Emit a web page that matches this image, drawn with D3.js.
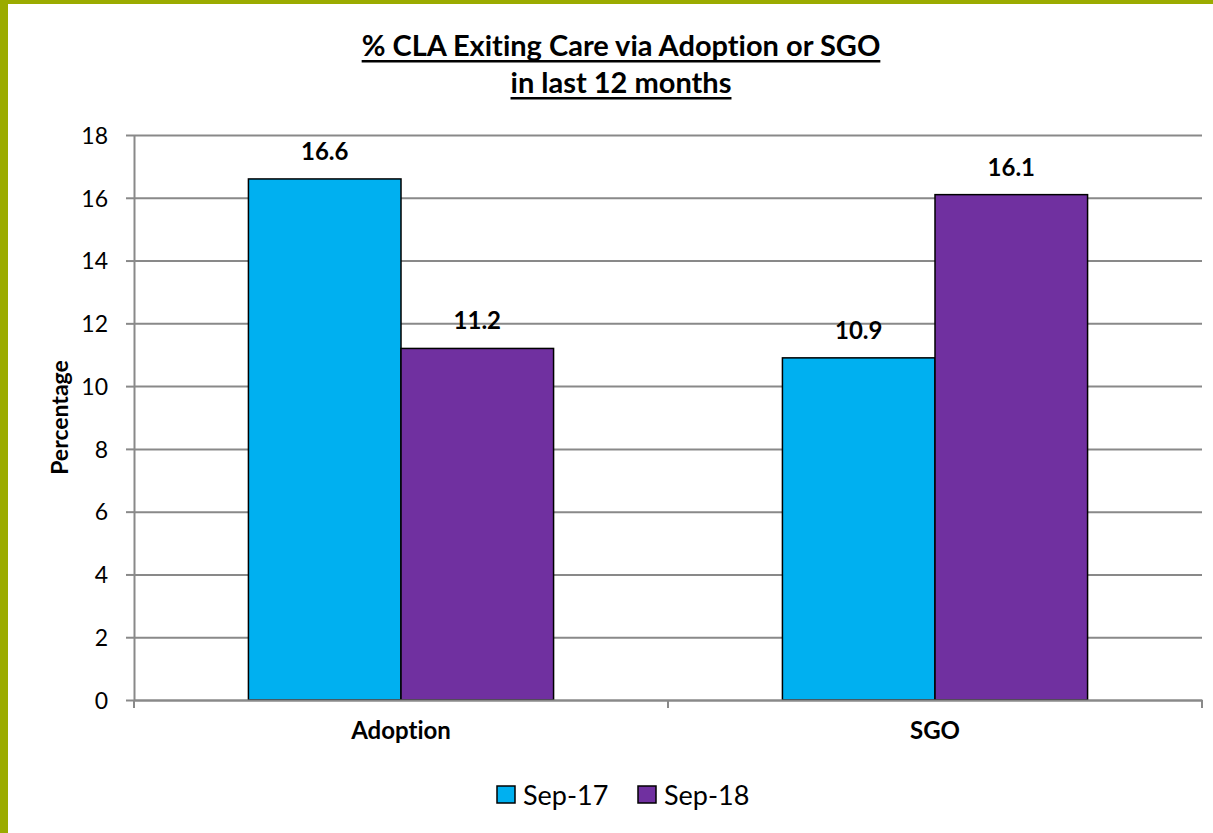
<!DOCTYPE html>
<html>
<head>
<meta charset="utf-8">
<script src="https://cdn.jsdelivr.net/npm/d3@7"></script>
<style>
  body { margin: 0; background: #fff; }
  svg { display: block; font-family: Lato, "Open Sans", sans-serif; font-variant-ligatures: none; }
</style>
</head>
<body>
<svg id="chart" width="1213" height="833"></svg>
<script>
// chart data
var categories = ["Adoption", "SGO"];
var seriesNames = ["Sep-17", "Sep-18"];
var sep17 = [16.6, 10.9];
var sep18 = [11.2, 16.1];
var yTicks = [0, 2, 4, 6, 8, 10, 12, 14, 16, 18];
var titleLines = ["% CLA Exiting Care via Adoption or SGO", "in last 12 months"];

var colors = { "Sep-17": "#00b0f0", "Sep-18": "#7030a0" };
var gridColor = "#898989";

var svg = d3.select("#chart");

// olive frame on left + top
svg.append("rect").attr("x", 0).attr("y", 0).attr("width", 1213).attr("height", 4).attr("fill", "#9bab00");
svg.append("rect").attr("x", 0).attr("y", 0).attr("width", 8).attr("height", 833).attr("fill", "#9bab00");

// plot box (note: "top" clashes with window.top, so prefix)
var plotL = 134, plotR = 1202, plotT = 135, plotB = 700;

var x0 = d3.scaleBand().domain(categories).range([plotL, plotR]).padding(0);
var x1 = d3.scaleBand().domain(seriesNames).range([0, x0.bandwidth()]).paddingInner(0).paddingOuter(0.75);
var y = d3.scaleLinear().domain([0, 18]).range([plotB, plotT]);

// gridlines
var grid = svg.append("g").attr("transform", "translate(" + plotL + ",0)")
  .call(d3.axisLeft(y).tickValues(yTicks).tickSize(-(plotR - plotL)).tickFormat(""));
grid.select(".domain").remove();
grid.selectAll("line").attr("stroke", gridColor).attr("stroke-width", 2);

// y axis
var yAxis = svg.append("g").attr("transform", "translate(" + plotL + ",0)")
  .call(d3.axisLeft(y).tickValues(yTicks).tickSize(8).tickPadding(18).tickSizeOuter(0));
yAxis.select(".domain").attr("stroke", gridColor).attr("stroke-width", 2);
yAxis.selectAll("line").attr("stroke", gridColor).attr("stroke-width", 2);
yAxis.selectAll("text").attr("font-size", 23).attr("fill", "#000").attr("font-family", "Lato").attr("dy", "0.36em");

// bars
var rows = categories.map(function(c, i) {
  return { cat: c, vals: [{ s: "Sep-17", v: sep17[i] }, { s: "Sep-18", v: sep18[i] }] };
});

var groups = svg.selectAll("g.cat").data(rows).enter().append("g")
  .attr("class", "cat")
  .attr("transform", function(d) { return "translate(" + x0(d.cat) + ",0)"; });

groups.selectAll("rect").data(function(d) { return d.vals; }).enter().append("rect")
  .attr("x", function(d) { return x1(d.s); })
  .attr("y", function(d) { return y(d.v); })
  .attr("width", x1.bandwidth())
  .attr("height", function(d) { return y(0) - y(d.v); })
  .attr("fill", function(d) { return colors[d.s]; })
  .attr("stroke", "#000")
  .attr("stroke-width", 1.5);

groups.selectAll("text.val").data(function(d) { return d.vals; }).enter().append("text")
  .attr("class", "val")
  .attr("x", function(d) { return x1(d.s) + x1.bandwidth() / 2; })
  .attr("y", function(d) { return y(d.v) - 19; })
  .attr("text-anchor", "middle")
  .attr("font-size", 24)
  .attr("font-weight", "bold")
  .text(function(d) { return d.v.toFixed(1); });

// x axis
var xAxis = svg.append("g").attr("transform", "translate(0," + plotB + ")")
  .call(d3.axisBottom(x0).tickSize(0).tickPadding(22));
xAxis.select(".domain").attr("stroke", gridColor).attr("stroke-width", 2);
xAxis.selectAll("text").attr("font-size", 24).attr("font-weight", "bold").attr("fill", "#000").attr("font-family", "Lato");
// boundary ticks between categories
var bounds = [plotL, plotL + x0.bandwidth(), plotR];
svg.selectAll("line.xtick").data(bounds).enter().append("line")
  .attr("x1", function(d) { return d; }).attr("x2", function(d) { return d; })
  .attr("y1", plotB).attr("y2", plotB + 8)
  .attr("stroke", gridColor).attr("stroke-width", 2);

// y axis label
svg.append("text")
  .attr("transform", "translate(68," + ((plotT + plotB) / 2) + ") rotate(-90)")
  .attr("text-anchor", "middle")
  .attr("font-size", 23)
  .attr("font-weight", "bold")
  .text("Percentage");

// title with underline
var titleX = 621;
var titleY = [56, 93];
titleLines.forEach(function(t, i) {
  var tx = svg.append("text")
    .attr("x", titleX).attr("y", titleY[i])
    .attr("text-anchor", "middle")
    .attr("font-size", 29)
    .attr("font-weight", "bold")
    .text(t);
  var w = tx.node().getComputedTextLength();
  svg.append("rect")
    .attr("x", titleX - w / 2).attr("y", titleY[i] + 4)
    .attr("width", w).attr("height", 2.5)
    .attr("fill", "#000");
});

// legend
var legend = svg.append("g");
var legendX = [497, 638];
seriesNames.forEach(function(s, i) {
  legend.append("rect")
    .attr("x", legendX[i]).attr("y", 786)
    .attr("width", 18).attr("height", 17)
    .attr("fill", colors[s]).attr("stroke", "#000").attr("stroke-width", 1.5);
  legend.append("text")
    .attr("x", legendX[i] + 26).attr("y", 805)
    .attr("font-size", 27)
    .text(s);
});
</script>
</body>
</html>
